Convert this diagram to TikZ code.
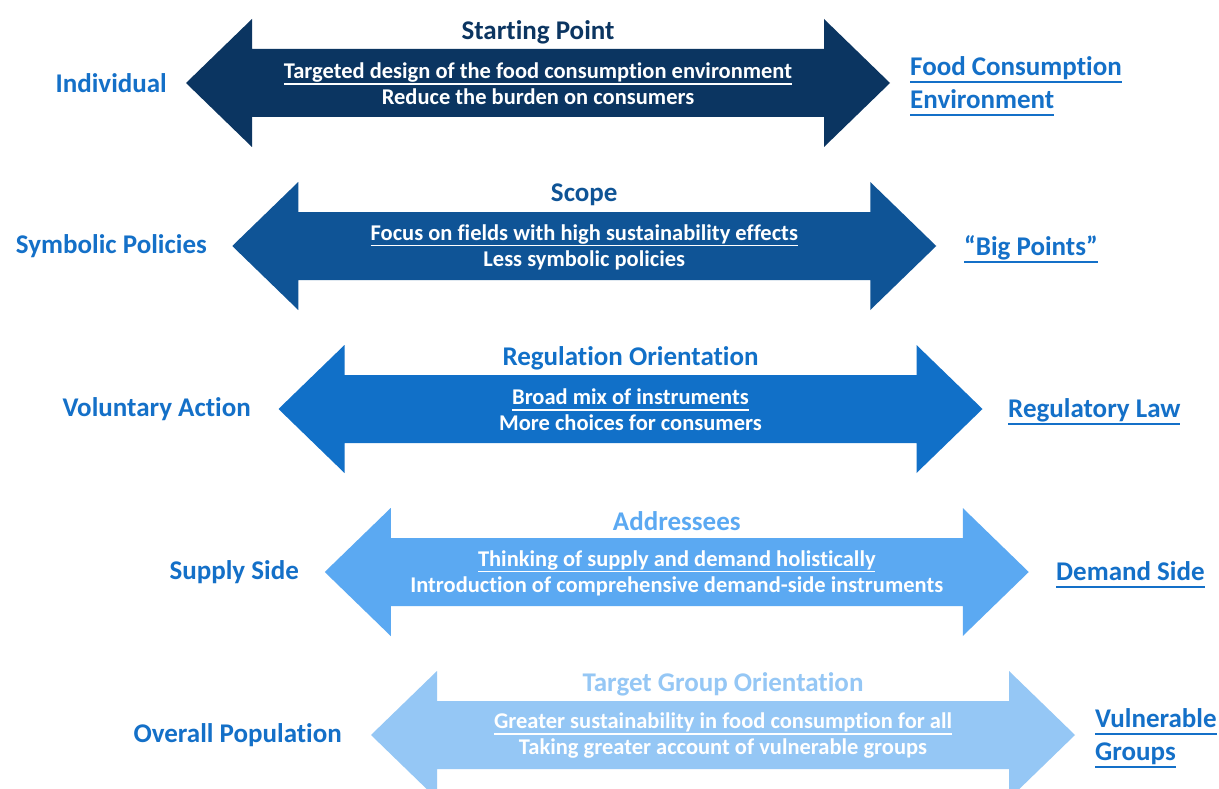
\documentclass[tikz,border=0pt]{standalone}
\usepackage{fontspec}
\setmainfont{Carlito}[Ligatures=NoCommon]
\definecolor{cA}{HTML}{0B3561}
\definecolor{cB}{HTML}{0F5496}
\definecolor{cC}{HTML}{1170C8}
\definecolor{cD}{HTML}{5BA9F2}
\definecolor{cE}{HTML}{95C7F5}
\definecolor{labc}{HTML}{1470C8}
\newcommand\myul[1]{\leavevmode\setbox0\hbox{#1}\rlap{\rule[-0.27em]{\wd0}{0.075em}}\box0}
\tikzset{
  titletext/.style={font=\fontsize{27}{32}\selectfont\bfseries, inner sep=0pt},
  bodytext/.style={font=\fontsize{22.5}{26}\selectfont\bfseries, text=white, align=center, inner sep=0pt},
  labtext/.style={font=\fontsize{27}{33}\selectfont\bfseries, text=labc, inner sep=0pt},
}
\newcommand\myrow[9]{%
  \pgfmathsetmacro\cx{538+46.25*#1}%
  \pgfmathsetmacro\cy{83+163*#1}%
  \fill[#2] (\cx-352,\cy) -- (\cx-286,\cy-64) -- (\cx-286,\cy-34) -- (\cx+286,\cy-34)
     -- (\cx+286,\cy-64) -- (\cx+352,\cy) -- (\cx+286,\cy+64) -- (\cx+286,\cy+34)
     -- (\cx-286,\cy+34) -- (\cx-286,\cy+64) -- cycle;
  \node[titletext, text=#2] (t#1) at (\cx,\cy-51) {#3};
  \node[bodytext] (b#1) at (\cx,\cy+1) {\myul{#4}\\#5};
  \node[labtext, anchor=east, align=right] (l#1) at (#8,\cy) {#6};
  \node[labtext, anchor=west, align=left] (r#1) at (#9,\cy+3) {#7};
}
\begin{document}
\begin{tikzpicture}[x=1pt,y=-1pt]
\path[use as bounding box] (0,0) rectangle (1219,789);
\clip (0,0) rectangle (1219,789);
\fill[white] (0,0) rectangle (1219,789);
\myrow{0}{cA}{Starting Point}{Targeted design of the food consumption environment}{Reduce the burden on consumers}{Individual}{\myul{Food Consumption}\\\myul{Environment}}{167}{910}
\myrow{1}{cB}{Scope}{Focus on fields with high sustainability effects}{Less symbolic policies}{Symbolic Policies}{\myul{“Big Points”}}{207}{964}
\myrow{2}{cC}{Regulation Orientation}{Broad mix of instruments}{More choices for consumers}{Voluntary Action}{\myul{Regulatory Law}}{251}{1008}
\myrow{3}{cD}{Addressees}{Thinking of supply and demand holistically}{Introduction of comprehensive demand-side instruments}{Supply Side}{\myul{Demand Side}}{299}{1056}
\myrow{4}{cE}{Target Group Orientation}{Greater sustainability in food consumption for all}{Taking greater account of vulnerable groups}{Overall Population}{\myul{Vulnerable}\\\myul{Groups}}{342}{1095}
\end{tikzpicture}
\end{document}
